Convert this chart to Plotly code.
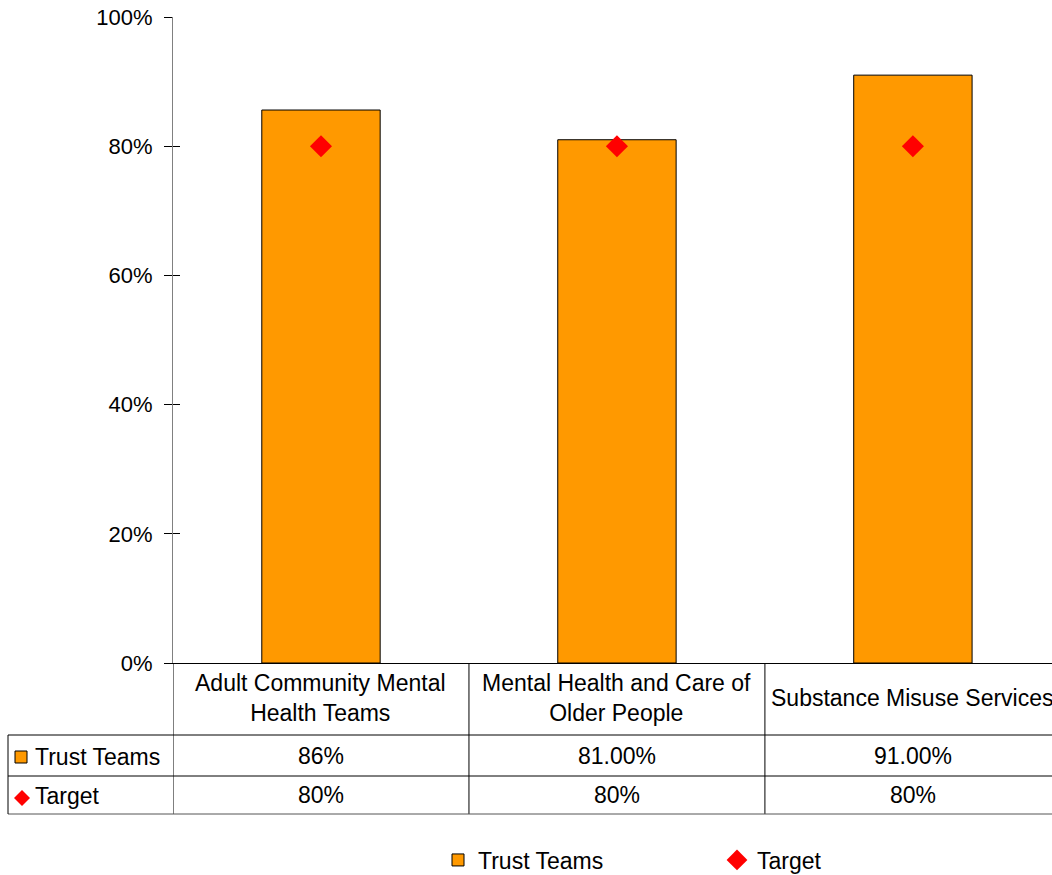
import plotly.graph_objects as go

categories = ["Adult Community Mental<br>Health Teams", "Mental Health and Care of<br>Older People", "Substance Misuse Services"]
trust_teams = [0.856, 0.81, 0.91]
trust_labels = ["86%", "81.00%", "91.00%"]
target = [0.80, 0.80, 0.80]
target_labels = ["80%", "80%", "80%"]
series_names = ["Trust Teams", "Target"]
y_ticks = [0, 0.2, 0.4, 0.6, 0.8, 1.0]

BAR_COLOR = "#FF9900"
TARGET_COLOR = "#FF0000"
FONT = "Liberation Sans, Arial, sans-serif"
FS = 23
FS_TICK = 22

W, H = 1052, 875
ML, MT, MB = 173, 17, 212
plot_h = H - MT - MB
plot_w = W - ML

def py(pix):  # pixel row -> paper y
    return (H - MB - pix) / plot_h

def px(pix):  # pixel col -> paper x
    return (pix - ML) / plot_w

xs = list(range(len(categories)))

fig = go.Figure()
fig.add_trace(go.Bar(x=xs, y=trust_teams, name=series_names[0], width=0.4,
                     marker=dict(color=BAR_COLOR, line=dict(color="black", width=1))))
fig.add_trace(go.Scatter(x=xs, y=target, name=series_names[1], mode="markers",
                         marker=dict(symbol="diamond", size=17, color=TARGET_COLOR)))
# invisible trace to activate yaxis2 (inner tick halves)
fig.add_trace(go.Scatter(x=[xs[0]], y=[0], yaxis="y2", mode="markers",
                         marker=dict(opacity=0), showlegend=False, hoverinfo="skip"))

fig.update_layout(
    width=W, height=H, autosize=False,
    margin=dict(l=ML, r=0, t=MT, b=MB, autoexpand=False),
    plot_bgcolor="white", paper_bgcolor="white",
    font=dict(family=FONT, size=FS, color="black"),
    showlegend=True,
    legend=dict(orientation="h", x=px(438), xanchor="left", y=py(860), yanchor="middle",
                font=dict(size=FS), entrywidth=234, entrywidthmode="pixels",
                bgcolor="rgba(0,0,0,0)"),
    xaxis=dict(range=[-0.5, len(categories) - 0.5 - 0.03], showticklabels=False, ticks="",
               showline=True, linecolor="black", linewidth=1, showgrid=False, zeroline=False,
               fixedrange=True),
    yaxis=dict(range=[0, 1], tickformat=".0%", tickvals=y_ticks,
               ticks="outside", ticklen=8, tickcolor="black", showline=True, linecolor="#808080",
               linewidth=1, showgrid=False, zeroline=False, ticklabelstandoff=7,
               tickfont=dict(size=FS_TICK)),
    yaxis2=dict(range=[0, 1], overlaying="y", side="left", tickvals=y_ticks,
                ticks="inside", ticklen=7, tickcolor="black", showticklabels=False,
                showline=False, showgrid=False, zeroline=False),
)

# data table grid
row_top, row1, row2, row_bot = 663, 735, 776, 814
line = dict(color="black", width=1)
shapes = []
for i in range(len(categories)):
    b = i - 0.5
    shapes.append(dict(type="line", xref="x", yref="paper", x0=b, x1=b, y0=py(row_top), y1=py(row_bot), line=line))
for r in (row1, row2):
    shapes.append(dict(type="line", xref="paper", yref="paper", x0=px(8), x1=1.0, y0=py(r), y1=py(r), line=line))
shapes.append(dict(type="line", xref="paper", yref="paper", x0=px(8), x1=1.0, y0=py(row_bot), y1=py(row_bot),
                   line=dict(color="#555555", width=1)))
shapes.append(dict(type="line", xref="paper", yref="paper", x0=px(8), x1=px(8), y0=py(row1), y1=py(row_bot), line=line))
# legend keys in table
shapes.append(dict(type="rect", xref="paper", yref="paper", x0=px(15), x1=px(27), y0=py(751), y1=py(763),
                   fillcolor=BAR_COLOR, line=dict(color="black", width=1)))
cx, cy = 22, 798
shapes.append(dict(type="path", xref="paper", yref="paper",
                   path=f"M {px(cx-8)} {py(cy)} L {px(cx)} {py(cy-8)} L {px(cx+8)} {py(cy)} L {px(cx)} {py(cy+8)} Z",
                   fillcolor=TARGET_COLOR, line=dict(width=0)))

annotations = []
for i, c in enumerate(categories):
    annotations.append(dict(x=i, y=py((row_top + row1) / 2 - 1), xref="x", yref="paper", text=c,
                            showarrow=False, align="center", xanchor="center", yanchor="middle",
                            font=dict(size=FS)))
    annotations.append(dict(x=i, y=py((row1 + row2) / 2), xref="x", yref="paper", text=trust_labels[i],
                            showarrow=False, xanchor="center", yanchor="middle", font=dict(size=FS)))
    annotations.append(dict(x=i, y=py((row2 + row_bot) / 2), xref="x", yref="paper", text=target_labels[i],
                            showarrow=False, xanchor="center", yanchor="middle", font=dict(size=FS)))
annotations.append(dict(x=px(33), y=py((row1 + row2) / 2 + 1), xref="paper", yref="paper", text=series_names[0],
                        xanchor="left", yanchor="middle", showarrow=False, font=dict(size=FS)))
annotations.append(dict(x=px(33), y=py((row2 + row_bot) / 2 + 1), xref="paper", yref="paper", text=series_names[1],
                        xanchor="left", yanchor="middle", showarrow=False, font=dict(size=FS)))

fig.update_layout(shapes=shapes, annotations=annotations)
fig.write_html("out.html", config={"displayModeBar": False})
